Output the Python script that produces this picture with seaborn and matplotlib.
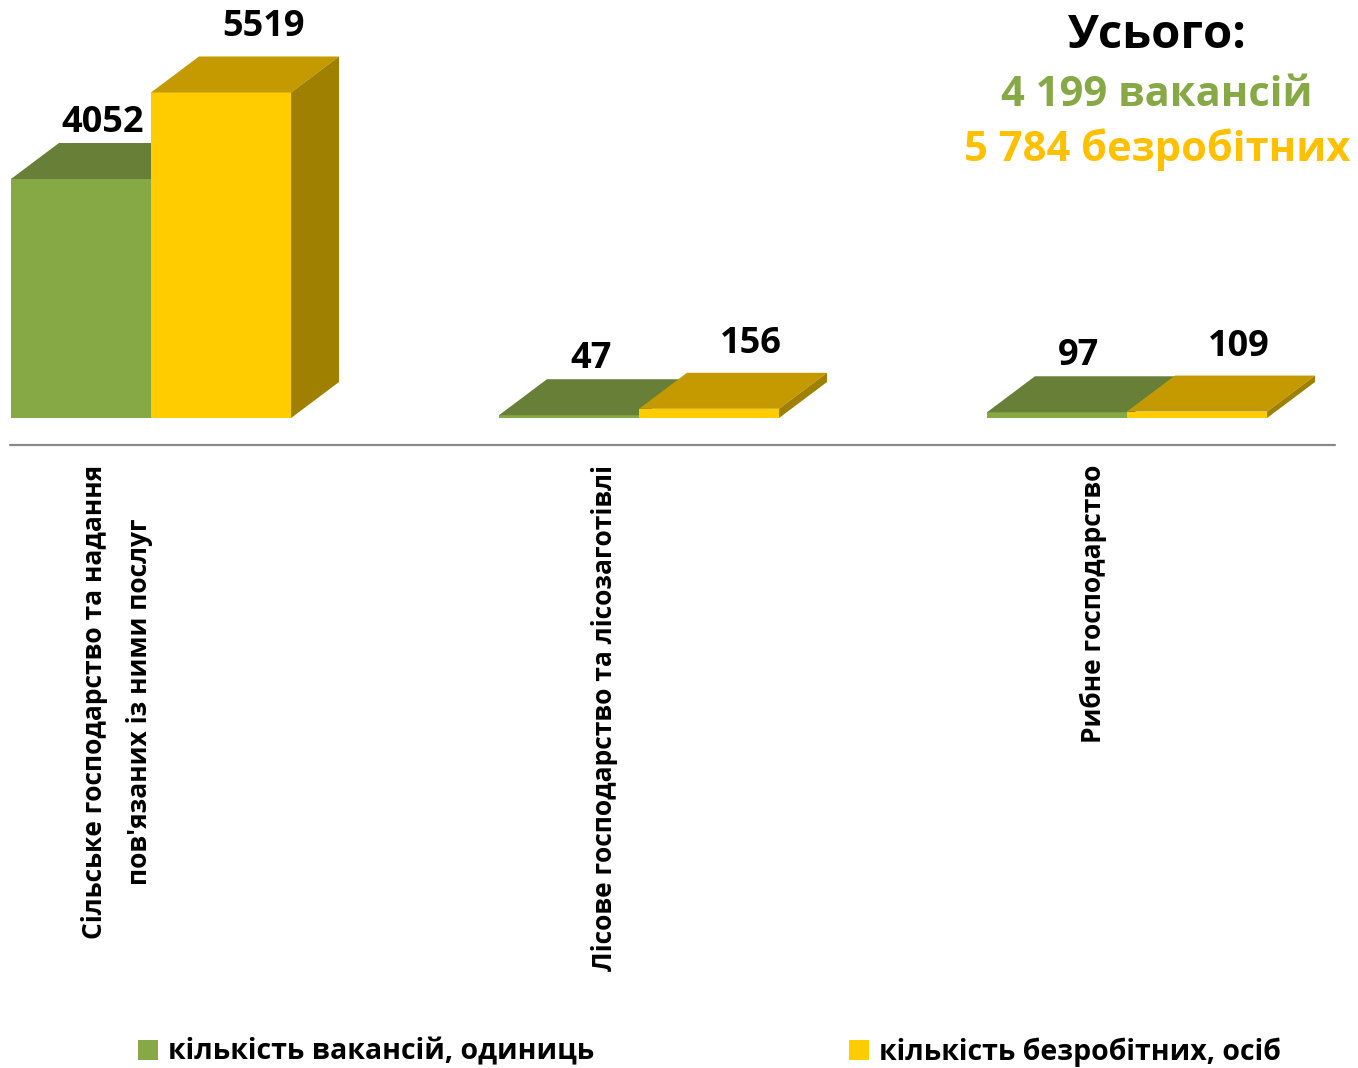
import pandas as pd
import matplotlib.pyplot as plt
import seaborn as sns
from matplotlib.patches import Polygon, Patch
from matplotlib.lines import Line2D

# дані з діаграми
categories = ["Сільське господарство та надання\nпов'язаних із ними послуг",
              "Лісове господарство та лісозаготівлі",
              "Рибне господарство"]
series = ["кількість вакансій, одиниць", "кількість безробітних, осіб"]
vacancies = [4052, 47, 97]
unemployed = [5519, 156, 109]
total_title = "Усього:"
total_vacancies = "4 199 вакансій"
total_unemployed = "5 784 безробітних"

df = pd.DataFrame({
    "category": categories * 2,
    "series": [series[0]] * 3 + [series[1]] * 3,
    "value": vacancies + unemployed,
})

# кольори: фронт / верх / бік
front = ["#86A845", "#FFCC00"]
top = ["#677F37", "#C49A00"]
side = ["#55702B", "#A08000"]

sns.set_style("white")
plt.rcParams['font.family'] = ['Open Sans', 'DejaVu Sans']
plt.rcParams['text.color'] = 'black'

W, H = 1358, 1068
fig = plt.figure(figsize=(W / 100, H / 100), dpi=100)
base_px = 418
ax = fig.add_axes([0, 1 - base_px / H, 1, base_px / H])

sns.barplot(data=df, x="category", y="value", hue="series", palette=front,
            saturation=1, width=0.574, gap=0, linewidth=0, legend=False, ax=ax)

px_per_x = 488
px_per_y = 0.05898
ax.set_xlim(-151 / px_per_x, (W - 151) / px_per_x)
ax.set_ylim(0, base_px / px_per_y)
ax.set_axis_off()

# глибина псевдо-3D
dx = 48 / px_per_x
dy = 36 / px_per_y

label_dx = [-2, 18]  # px
label_dy = [20, 29]  # px
for k, cont in enumerate(ax.containers):
    z = 2 + k
    for bar in cont.patches:
        bar.set_zorder(z)
        x0 = bar.get_x()
        x1 = x0 + bar.get_width()
        h = bar.get_height()
        ax.add_patch(Polygon([(x0, h), (x1, h), (x1 + dx, h + dy), (x0 + dx, h + dy)],
                             closed=True, facecolor=top[k], edgecolor="none", zorder=z))
        ax.add_patch(Polygon([(x1, 0), (x1, h), (x1 + dx, h + dy), (x1 + dx, dy)],
                             closed=True, facecolor=side[k], edgecolor="none", zorder=z))
        ax.annotate(f"{h:.0f}", xy=((x0 + x1) / 2 + dx / 2, h + dy),
                    xytext=(label_dx[k] * 0.72, label_dy[k] * 0.72), textcoords="offset points",
                    ha="center", va="center", fontsize=26, fontweight="bold",
                    color="black", annotation_clip=False, zorder=5)

# лінія осі
fig.add_artist(Line2D([10 / W, 1335 / W], [1 - 445 / H, 1 - 445 / H],
                      color="#898989", linewidth=1.6))

# підписи категорій
for i, name in enumerate(categories):
    x_fig = (151 + px_per_x * i - 34) / W
    fig.text(x_fig, 1 - 465 / H, name, rotation=90, ha="center", va="top",
             multialignment="center", linespacing=1.85, fontsize=19,
             fontweight="bold")

# підсумки
cx = 1157 / W
fig.text(cx, 1 - 35 / H, total_title, ha="center", va="center",
         fontsize=34, fontweight="bold", color="black")
fig.text(cx, 1 - 95 / H, total_vacancies, ha="center", va="center",
         fontsize=30, fontweight="bold", color="#86A845")
fig.text(cx, 1 - 150 / H, total_unemployed, ha="center", va="center",
         fontsize=30, fontweight="bold", color="#FFC000")

# легенда
handles = [Patch(facecolor=front[0], edgecolor="none", label=series[0]),
           Patch(facecolor=front[1], edgecolor="none", label=series[1])]
fig.legend(handles=handles, loc="center left", bbox_to_anchor=(138 / W, 1 - 1052 / H),
           ncol=2, frameon=False, prop={"weight": "bold", "size": 20.5},
           handlelength=0.7, handleheight=0.7, handletextpad=0.35,
           columnspacing=8.95, borderpad=0, borderaxespad=0)

fig.savefig("out.png", dpi=100)
